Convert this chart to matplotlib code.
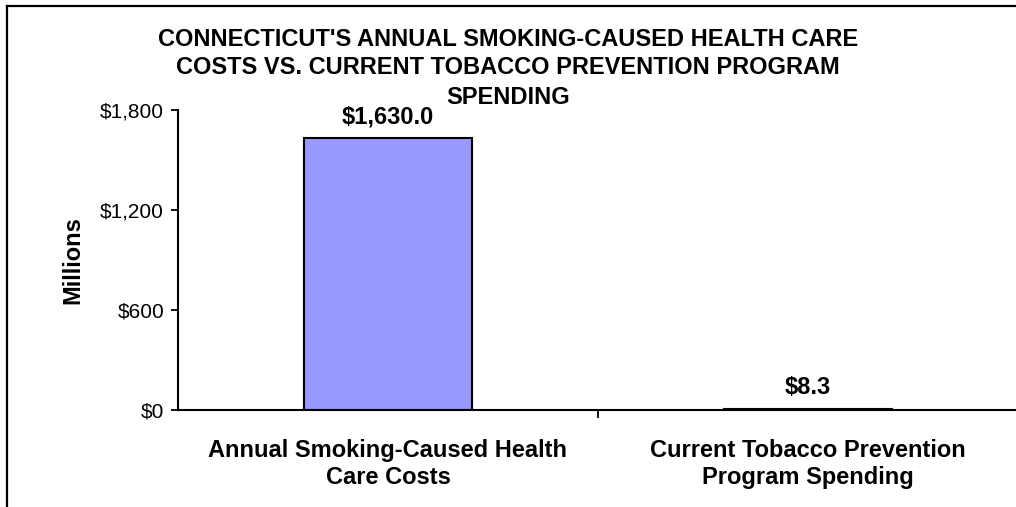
import matplotlib.pyplot as plt
from matplotlib.lines import Line2D
from matplotlib.ticker import FixedLocator, FuncFormatter

plt.rcParams['font.family'] = ['Liberation Sans', 'DejaVu Sans']

categories = ['Annual Smoking-Caused Health\nCare Costs',
              'Current Tobacco Prevention\nProgram Spending']
values = [1630.0, 8.3]
value_labels = ['$1,630.0', '$8.3']
y_ticks = [0, 600, 1200, 1800]
title_lines = ["CONNECTICUT'S ANNUAL SMOKING-CAUSED HEALTH CARE",
               "COSTS VS. CURRENT TOBACCO PREVENTION PROGRAM",
               "SPENDING"]

W, H = 1016, 507
fig = plt.figure(figsize=(W / 100, H / 100), dpi=100)
ax = fig.add_axes([178 / W, 1 - 410 / H, 840 / W, 300 / H])

x = range(len(categories))
ax.bar(x, values, width=0.40, color='#9999FF', edgecolor='black', linewidth=1.5)

for xi, v, lab in zip(x, values, value_labels):
    ax.annotate(lab, (xi, v), xytext=(0, 7), textcoords='offset points',
                ha='center', va='bottom', fontsize=17, fontweight='bold')

ax.set_xlim(-0.5, 1.5)
ax.set_ylim(0, 1800)
ax.set_yticks(y_ticks)
ax.yaxis.set_major_formatter(FuncFormatter(lambda v, p: '${:,.0f}'.format(v)))
ax.tick_params(axis='y', labelsize=15, length=5, width=1.3, pad=5)

ax.set_xticks(list(x))
ax.set_xticklabels(categories, fontsize=17, fontweight='bold', linespacing=1.2)
ax.tick_params(axis='x', which='major', length=0, pad=21)
ax.xaxis.set_minor_locator(FixedLocator([0.5]))
ax.tick_params(axis='x', which='minor', length=6, width=1.3)

ax.set_ylabel('Millions', fontsize=17, fontweight='bold', labelpad=11)

for s in ['top', 'right']:
    ax.spines[s].set_visible(False)
for s in ['left', 'bottom']:
    ax.spines[s].set_linewidth(1.5)

# title as three centred lines
for i, line in enumerate(title_lines):
    fig.text(0.5, 1 - (39 + 29 * i) / H, line, ha='center', va='center',
             fontsize=17, fontweight='bold')

# outer frame: only left and top edges show inside the picture
fig.add_artist(Line2D([6.5 / W, 6.5 / W], [0, 1 - 6 / H], color='black', linewidth=1.6))
fig.add_artist(Line2D([6.5 / W, 1], [1 - 6 / H, 1 - 6 / H], color='black', linewidth=1.6))

fig.savefig('out.png', dpi=100)
